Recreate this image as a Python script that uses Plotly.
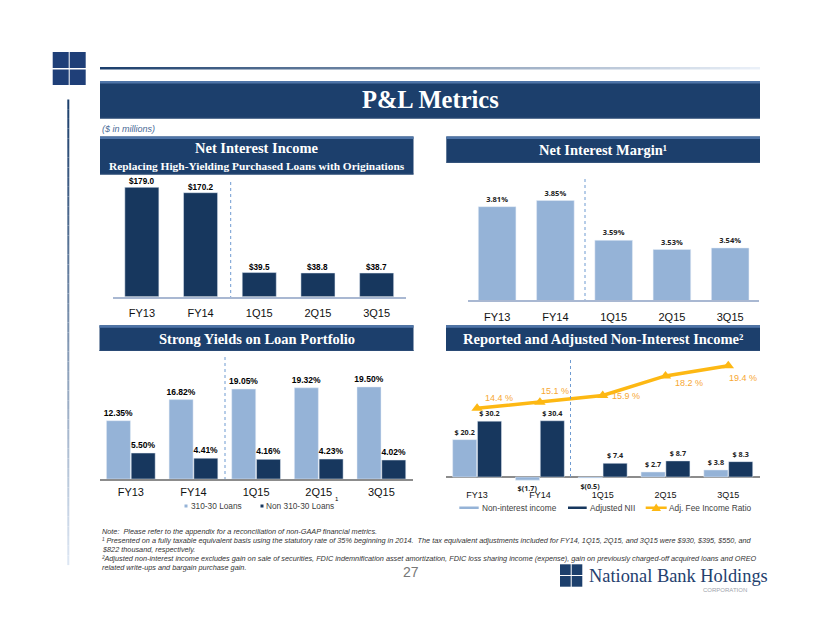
import plotly.graph_objects as go

W, H = 822, 635

# ---------- data ----------
periods = ["FY13", "FY14", "1Q15", "2Q15", "3Q15"]
nii_values = [179.0, 170.2, 39.5, 38.8, 38.7]
nim_values = [3.81, 3.85, 3.59, 3.53, 3.54]
yield_310 = [12.35, 16.82, 19.05, 19.32, 19.50]
yield_non310 = [5.50, 4.41, 4.16, 4.23, 4.02]
non_int_income = [20.2, -1.7, -0.5, 2.7, 3.8]
adjusted_nii = [30.2, 30.4, 7.4, 8.7, 8.3]
fee_ratio = [14.4, 15.1, 15.9, 18.2, 19.4]
fee_label_shift = [(22, 10), (15, 11), (23, 0), (23, -7), (15, -12)]

footnotes = [
    "Note:  Please refer to the appendix for a reconciliation of non-GAAP financial metrics.",
    "¹ Presented on a fully taxable equivalent basis using the statutory rate of 35% beginning in 2014.  The tax equivalent adjustments included for FY14, 1Q15, 2Q15, and 3Q15 were $930, $395, $550, and",
    "$822 thousand, respectively.",
    "²Adjusted non-interest income excludes gain on sale of securities, FDIC indemnification asset amortization, FDIC loss sharing income (expense), gain on previously charged-off acquired loans and OREO",
    "related write-ups and bargain purchase gain.",
]
footnote_y = [531.5, 540.5, 549.5, 558, 567]

# ---------- style ----------
LIGHT = "#95B3D7"
DARK = "#17375E"
BANNER = "#1C3F6C"
RIM = "#4F75A8"
ORANGE = "#FDB813"
ORANGE_TXT = "#F7A733"
SANS = "Liberation Sans"
SERIF = "Liberation Serif"
LABEL2 = "Open Sans"


def px(x):
    return x / W


def py(y):
    return 1 - y / H


def mix(c1, c2, t):
    a = [int(c1[i:i + 2], 16) for i in (1, 3, 5)]
    b = [int(c2[i:i + 2], 16) for i in (1, 3, 5)]
    return "#" + "".join(f"{round(p + (q - p) * t):02x}" for p, q in zip(a, b))


shapes, annotations = [], []


def rect(x0, y0, x1, y1, color):
    shapes.append(dict(type="rect", xref="paper", yref="paper", x0=px(x0), x1=px(x1),
                       y0=py(y0), y1=py(y1), fillcolor=color, line_width=0, layer="below"))


def text(x, y, s, size, color="#000000", font=SANS, anchor="center"):
    annotations.append(dict(xref="paper", yref="paper", x=px(x), y=py(y), text=s, showarrow=False,
                            xanchor=anchor, yanchor="middle", borderpad=0,
                            font=dict(size=size, color=color, family=font)))


def banner(x0, y0, x1, y1):
    rect(x0, y0, x1, y1, BANNER)
    rect(x0, y0, x1, y0 + 2.5, RIM)
    rect(x0, y1 - 1, x1, y1, "#2A4A75")


def separator(x, y0, y1):
    shapes.append(dict(type="line", xref="paper", yref="paper", x0=px(x), x1=px(x), y0=py(y0), y1=py(y1),
                       line=dict(color="#6F9BD1", width=1, dash="dot")))


# ---------- slide furniture ----------
for i in range(66):
    rect(100 + i * 10, 67, 100 + (i + 1) * 10, 69.5, mix("#1C3F6C", "#EAF0F8", i / 65))
for i in range(48):
    rect(67.3, 99.5 + i * 9.7, 69.3, 99.5 + (i + 1) * 9.7, mix("#1C3F6C", "#DCE6F3", i / 47))
for x0, x1 in ((52.7, 68.7), (69.7, 85.7)):
    for y0, y1 in ((52, 68), (69.5, 85)):
        rect(x0, y0, x1, y1, "#1F3F78")

banner(100, 81, 760, 118.5)
text(430, 100, "<b>P&L Metrics</b>", 24.5, "#FFFFFF", SERIF)
text(101, 128.5, "<i>($ in millions)</i>", 9, "#4A6A96", SANS, "left")

banner(100, 136.5, 413.5, 174.5)
text(256.5, 147.7, "<b>Net Interest Income</b>", 14.5, "#FFFFFF", SERIF)
text(256.5, 166, "<b>Replacing High-Yielding Purchased Loans with Originations</b>", 11.4, "#FFFFFF", SERIF)
banner(446.3, 136.5, 760, 162.7)
text(603, 150.3, "<b>Net Interest Margin¹</b>", 14.5, "#FFFFFF", SERIF)
banner(99.5, 325.3, 413.5, 351)
text(256.5, 338.7, "<b>Strong Yields on Loan Portfolio</b>", 14.5, "#FFFFFF", SERIF)
banner(446, 325.3, 760, 351)
text(603, 338.7, "<b>Reported and Adjusted Non-Interest Income²</b>", 14.5, "#FFFFFF", SERIF)

separator(230.7, 182, 297)
separator(585, 179, 300)
separator(225, 357, 479)
separator(570.5, 360, 477)

# footnotes, page number and logo
for line, y in zip(footnotes, footnote_y):
    text(101, y, f"<i>{line}</i>", 7.3, "#333333", SANS, "left")
text(410.5, 572, "27", 14, "#777777")
for x0, x1 in ((560, 570.7), (571.7, 582.3)):
    for y0, y1 in ((564.3, 575), (576, 586.7)):
        rect(x0, y0, x1, y1, "#1C3F6C")
text(588, 576, "National Bank Holdings", 18.4, "#24406E", SERIF, "left")
text(725, 589.5, "CORPORATION", 6, "#A0A4AC")

# ---------- hand-placed legends ----------
rect(184.5, 504.5, 187.5, 507.5, LIGHT)
text(189.5, 506, "310-30 Loans", 8.3, "#404040", SANS, "left")
rect(260.5, 504.5, 263.5, 507.5, DARK)
text(265, 506, "Non 310-30 Loans", 8.3, "#404040", SANS, "left")
text(336.5, 499, "1", 6, "#000000")

rect(459.3, 506.5, 478.7, 509, LIGHT)
text(481, 507.7, "Non-interest income", 8.3, "#404040", SANS, "left")
rect(568, 506.5, 586.7, 509, DARK)
text(589, 507.7, "Adjusted NII", 8.3, "#404040", SANS, "left")
rect(645.7, 506.5, 666.7, 509, ORANGE)
shapes.append(dict(type="path", xref="paper", yref="paper", fillcolor=ORANGE, line_width=0,
                   path=f"M {px(651.5)} {py(511)} L {px(656.2)} {py(503.5)} L {px(661)} {py(511)} Z"))
text(668, 507.7, "Adj. Fee Income Ratio", 8.3, "#404040", SANS, "left")

fig = go.Figure()

# ---------- panel 1: Net Interest Income ----------
fig.add_bar(x=periods, y=nii_values, marker_color=DARK, xaxis="x", yaxis="y", width=0.58,
            cliponaxis=False, name="Net Interest Income", showlegend=False)
for p, v in zip(periods, nii_values):
    annotations.append(dict(xref="x", yref="y", x=p, y=v, yanchor="bottom", yshift=-1, text=f"<b>${v:.1f}</b>",
                            showarrow=False, font=dict(size=8.2, color="#000000", family=SANS)))

# ---------- panel 2: Net Interest Margin ----------
fig.add_bar(x=periods, y=nim_values, marker_color=LIGHT, xaxis="x2", yaxis="y2", width=0.645,
            text=[f"{v:.2f}%" for v in nim_values], textposition="outside", cliponaxis=False,
            constraintext="none",
            textfont=dict(size=7.5, color="#222222", family=LABEL2, weight="bold"),
            name="Net Interest Margin", showlegend=False)

# ---------- panel 3: Loan yields ----------
for vals, col, nm in ((yield_310, LIGHT, "310-30 Loans"), (yield_non310, DARK, "Non 310-30 Loans")):
    fig.add_bar(x=periods, y=vals, marker_color=col, xaxis="x3", yaxis="y3",
                text=[f"{v:.2f}%" for v in vals], textposition="outside", cliponaxis=False,
                constraintext="none",
                textfont=dict(size=8.5, color="#000000", family=SANS, weight="bold"),
                name=nm, showlegend=False)


# ---------- panel 4: Non-interest income ----------
def dollar(v):
    return f"$({abs(v):.1f})" if v < 0 else f"$ {v:.1f}"


for vals, col, nm in ((non_int_income, LIGHT, "Non-interest income"), (adjusted_nii, DARK, "Adjusted NII")):
    fig.add_bar(x=periods, y=vals, marker_color=col, xaxis="x4", yaxis="y4",
                text=[dollar(v) for v in vals], textposition="outside", cliponaxis=False,
                constraintext="none",
                textfont=dict(size=7.2, color="#222222", family=LABEL2, weight="bold"),
                name=nm, showlegend=False)
fig.add_scatter(x=periods, y=fee_ratio, mode="lines+markers", xaxis="x4", yaxis="y5", cliponaxis=False,
                line=dict(color=ORANGE, width=3.5),
                marker=dict(symbol="triangle-up", size=10, color=ORANGE),
                name="Adj. Fee Income Ratio", showlegend=False)
for p, v, (dx, dy) in zip(periods, fee_ratio, fee_label_shift):
    annotations.append(dict(xref="x4", yref="y5", x=p, y=v, xshift=dx, yshift=dy, text=f"{v:.1f} %",
                            showarrow=False, font=dict(size=9, color=ORANGE_TXT, family=SANS)))


# ---------- axes: scales expressed as pixels-per-unit ----------
def xaxis(x0, x1, size, standoff, anchor, line=None):
    return dict(domain=[px(x0), px(x1)], range=[-0.5, 4.5], type="category", anchor=anchor,
                tickfont=dict(size=size, family=SANS, color="#111111"),
                showline=line is not None, linecolor=line, linewidth=1.5, ticks="", ticklabelstandoff=standoff,
                showgrid=False, zeroline=False, fixedrange=True)


def yaxis(base_px, top_px, xname, per_unit, low=0.0, bottom_px=None, **extra):
    bottom_px = base_px if bottom_px is None else bottom_px
    return dict(domain=[py(bottom_px), py(top_px)], anchor=xname, visible=False, showgrid=False,
                range=[low - (bottom_px - base_px) / per_unit, low + (base_px - top_px) / per_unit],
                fixedrange=True, **extra)


AX1 = "#A9B8D2"
AX3 = "#8C8C8C"

fig.update_layout(
    width=W, height=H, autosize=False, margin=dict(l=0, r=0, t=0, b=0),
    paper_bgcolor="#FFFFFF", plot_bgcolor="rgba(0,0,0,0)", showlegend=False,
    font=dict(family=SANS), barmode="group", shapes=shapes, annotations=annotations,
    xaxis=xaxis(112.5, 406, 11, 5, "y", AX1),
    yaxis=yaxis(296.7, 182, "x", 0.611),
    xaxis2=xaxis(468, 759.3, 11, 6, "y2", AX1),
    yaxis2=yaxis(300, 179, "x2", 153.0, low=3.2),
    xaxis3=xaxis(99.5, 412.7, 11, 2, "y3", AX3),
    yaxis3=yaxis(479, 357, "x3", 4.72),
    xaxis4=xaxis(445.7, 759.7, 9, 3, "y4"),
    yaxis4=yaxis(477, 355, "x4", 1.85, bottom_px=485, zeroline=False),
    yaxis5=dict(domain=[py(485), py(355)], overlaying="y4", anchor="x4", visible=False, showgrid=False,
                range=[14.4 - (485 - 408.3) / 8.52, 14.4 + (408.3 - 355) / 8.52], fixedrange=True),
    bargap=0.21, bargroupgap=0.03,
)
# baseline of panel 4 is the zero line of its value axis
fig.update_layout(yaxis4=dict(visible=True, showticklabels=False, ticks="", showline=False,
                              zeroline=True, zerolinecolor=AX3, zerolinewidth=1.5))

fig.write_html("out.html", config={"displayModeBar": False},
               post_script="document.body.style.margin='0';document.body.style.overflow='hidden';")
